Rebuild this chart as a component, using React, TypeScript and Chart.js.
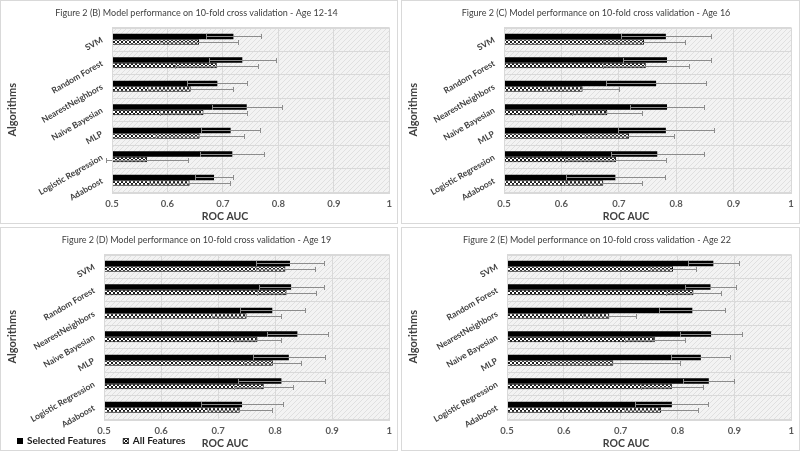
import React, { useEffect, useRef } from 'react';
import { Chart, registerables } from 'chart.js';

Chart.register(...registerables);

const FONT = 'Lato, "Open Sans", sans-serif';

const categories = ['SVM', 'Random Forest', 'NearestNeighbors', 'Naive Bayesian', 'MLP', 'Logistic Regression', 'Adaboost'];
const seriesNames = ['Selected Features', 'All Features'];
const xTickValues = [0.5, 0.6, 0.7, 0.8, 0.9, 1];
const xTickLabels = ['0.5', '0.6', '0.7', '0.8', '0.9', '1'];
const xAxisTitle = 'ROC AUC';
const yAxisTitle = 'Algorithms';

const titleB = 'Figure 2 (B) Model performance on 10-fold cross validation - Age 12-14';
const selectedB = [0.719, 0.735, 0.690, 0.743, 0.714, 0.717, 0.684];
const selectedErrB = [0.050, 0.060, 0.054, 0.063, 0.053, 0.058, 0.035];
const allB = [0.657, 0.689, 0.642, 0.665, 0.658, 0.563, 0.640];
const allErrB = [0.071, 0.075, 0.077, 0.078, 0.080, 0.074, 0.073];

const titleC = 'Figure 2 (C) Model performance on 10-fold cross validation - Age 16';
const selectedC = [0.782, 0.784, 0.765, 0.784, 0.782, 0.767, 0.694];
const selectedErrC = [0.078, 0.076, 0.087, 0.065, 0.084, 0.081, 0.086];
const allC = [0.744, 0.747, 0.637, 0.680, 0.718, 0.695, 0.673];
const allErrC = [0.071, 0.075, 0.064, 0.061, 0.079, 0.088, 0.067];

const titleD = 'Figure 2 (D) Model performance on 10-fold cross validation - Age 19';
const selectedD = [0.826, 0.828, 0.795, 0.839, 0.824, 0.811, 0.742];
const selectedErrD = [0.059, 0.057, 0.057, 0.054, 0.063, 0.076, 0.072];
const allD = [0.818, 0.820, 0.750, 0.769, 0.796, 0.780, 0.738];
const allErrD = [0.051, 0.052, 0.061, 0.041, 0.050, 0.052, 0.057];

const titleE = 'Figure 2 (E) Model performance on 10-fold cross validation - Age 22';
const selectedE = [0.863, 0.858, 0.826, 0.859, 0.841, 0.855, 0.790];
const selectedErrE = [0.045, 0.045, 0.058, 0.055, 0.052, 0.045, 0.064];
const allE = [0.792, 0.828, 0.680, 0.760, 0.687, 0.790, 0.771];
const allErrE = [0.040, 0.049, 0.047, 0.053, 0.117, 0.055, 0.065];

function makePattern(size: number, bg: string, fg: string, pixels: number[][]) {
  const c = document.createElement('canvas');
  c.width = size;
  c.height = size;
  const g = c.getContext('2d')!;
  g.fillStyle = bg;
  g.fillRect(0, 0, size, size);
  g.fillStyle = fg;
  pixels.forEach(([x, y]) => g.fillRect(x, y, 1, 1));
  return g.createPattern(c, 'repeat')!;
}

function hatchPattern() {
  return makePattern(4, '#ffffff', '#1a1a1a', [[0, 0], [1, 1], [2, 2], [3, 3], [3, 0], [2, 1], [1, 2], [0, 3]]);
}

function bgPattern() {
  return makePattern(5, '#f3f3f3', '#e0e0e0', [[4, 0], [3, 1], [2, 2], [1, 3], [0, 4]]);
}

type PanelProps = {
  title: string;
  selected: number[];
  selectedErr: number[];
  all: number[];
  allErr: number[];
  left: number;
  top: number;
  width: number;
  height: number;
  axisWidth: number;
  padRight: number;
  showLegend: boolean;
};

function Panel(p: PanelProps) {
  const ref = useRef<HTMLCanvasElement>(null);
  useEffect(() => {
    const canvas = ref.current!;
    const hatch = hatchPattern();
    const bg = bgPattern();

    const backgroundPlugin = {
      id: 'bgp',
      beforeDraw(chart: any) {
        const { ctx, chartArea: a } = chart;
        ctx.save();
        ctx.fillStyle = '#ffffff';
        ctx.fillRect(0, 0, chart.width, chart.height);
        ctx.fillStyle = bg;
        ctx.fillRect(a.left, a.top, a.right - a.left, a.bottom - a.top);
        ctx.restore();
      },
    };

    const errorBarPlugin = {
      id: 'errbars',
      afterDatasetsDraw(chart: any) {
        const ctx = chart.ctx;
        const xs = chart.scales.x;
        chart.data.datasets.forEach((ds: any, i: number) => {
          const meta = chart.getDatasetMeta(i);
          meta.data.forEach((bar: any, j: number) => {
            const v = ds.data[j];
            const e = ds.errors[j];
            const x1 = Math.round(xs.getPixelForValue(v - e)) + 0.5;
            const x2 = Math.round(xs.getPixelForValue(v + e)) + 0.5;
            const y = Math.round(bar.y) + 0.5;
            ctx.save();
            ctx.strokeStyle = '#8c8c8c';
            ctx.lineWidth = 1;
            ctx.beginPath();
            ctx.moveTo(x1, y);
            ctx.lineTo(x2, y);
            ctx.moveTo(x1, y - 2.5);
            ctx.lineTo(x1, y + 2.5);
            ctx.moveTo(x2, y - 2.5);
            ctx.lineTo(x2, y + 2.5);
            ctx.stroke();
            ctx.restore();
          });
        });
      },
    };

    const overlayPlugin = {
      id: 'overlay',
      afterDraw(chart: any) {
        const { ctx, chartArea: a } = chart;
        ctx.save();
        ctx.strokeStyle = '#d9d9d9';
        ctx.lineWidth = 1;
        ctx.strokeRect(Math.round(a.left) + 0.5, Math.round(a.top) + 0.5, Math.round(a.right - a.left), Math.round(a.bottom - a.top));
        ctx.strokeRect(0.5, 0.5, chart.width - 1, chart.height - 1);
        ctx.fillStyle = '#404040';
        ctx.font = `bold 10.5px ${FONT}`;
        ctx.textAlign = 'center';
        ctx.textBaseline = 'middle';
        ctx.fillText(xAxisTitle, 225, chart.height - 7.5);
        if (p.showLegend) {
          const ds = chart.data.datasets;
          const y = chart.height - 10;
          ctx.font = `bold 10px ${FONT}`;
          ctx.textAlign = 'left';
          ctx.fillStyle = '#000000';
          let x = 17;
          ctx.fillRect(x, y - 3, 6, 6);
          x += 10;
          ctx.fillStyle = '#1a1a1a';
          ctx.fillText(ds[0].label, x, y);
          x += ctx.measureText(ds[0].label).width + 17;
          ctx.fillStyle = hatch;
          ctx.fillRect(x, y - 3, 6, 6);
          ctx.strokeStyle = '#333333';
          ctx.strokeRect(x + 0.5, y - 2.5, 5, 5);
          x += 10;
          ctx.fillStyle = '#1a1a1a';
          ctx.fillText(ds[1].label, x, y);
        }
        ctx.restore();
      },
    };

    const chart = new Chart(canvas, {
      type: 'bar',
      data: {
        labels: categories,
        datasets: [
          {
            label: seriesNames[0],
            data: p.selected,
            errors: p.selectedErr,
            backgroundColor: '#000000',
            borderWidth: 0,
            categoryPercentage: 0.47,
            barPercentage: 1,
          } as any,
          {
            label: seriesNames[1],
            data: p.all,
            errors: p.allErr,
            backgroundColor: hatch,
            borderColor: '#000000',
            borderWidth: 1,
            categoryPercentage: 0.47,
            barPercentage: 1,
          } as any,
        ],
      },
      options: {
        indexAxis: 'y',
        animation: false,
        responsive: false,
        maintainAspectRatio: false,
        layout: { padding: { left: 0, right: p.padRight, top: 0, bottom: 0 } },
        plugins: {
          legend: { display: false },
          tooltip: { enabled: false },
          title: {
            display: true,
            text: p.title,
            color: '#404040',
            font: { family: FONT, size: 9, weight: 'normal' },
            padding: { top: 8, bottom: 8.7 },
          },
        },
        scales: {
          x: {
            min: 0.5,
            max: 1,
            afterBuildTicks: (s: any) => {
              s.ticks = xTickValues.map((v) => ({ value: v }));
            },
            ticks: {
              color: '#595959',
              font: { family: FONT, size: 9.5, weight: 'bold' },
              padding: 6,
              callback: (_v: any, i: number) => xTickLabels[i],
            },
            grid: { color: '#d9d9d9', drawTicks: false },
            border: { display: false },
            afterFit: (s: any) => {
              s.height = 32;
            },
          },
          y: {
            grid: { color: '#d9d9d9', drawTicks: false, offset: true },
            border: { display: false },
            ticks: {
              minRotation: 30,
              maxRotation: 30,
              color: '#404040',
              font: { family: FONT, size: 8.5, weight: 'bold' },
              padding: 10,
            },
            title: {
              display: true,
              text: yAxisTitle,
              color: '#404040',
              font: { family: FONT, size: 11, weight: 'bold' },
              padding: { top: 6, bottom: 0 },
            },
            afterFit: (s: any) => {
              s.width = p.axisWidth;
            },
          },
        },
      } as any,
      plugins: [backgroundPlugin, errorBarPlugin, overlayPlugin],
    });
    return () => chart.destroy();
  }, []);
  return (
    <canvas
      ref={ref}
      width={p.width}
      height={p.height}
      style={{ position: 'absolute', left: p.left, top: p.top, width: p.width, height: p.height }}
    />
  );
}

export default function App() {
  return (
    <div style={{ position: 'fixed', left: 0, top: 0, width: 800, height: 451, background: '#ffffff', overflow: 'hidden' }}>
      <Panel title={titleB} selected={selectedB} selectedErr={selectedErrB} all={allB} allErr={allErrB}
        left={0} top={0} width={398} height={224} axisWidth={112} padRight={5} showLegend={false} />
      <Panel title={titleC} selected={selectedC} selectedErr={selectedErrC} all={allC} allErr={allErrC}
        left={401} top={0} width={399} height={224} axisWidth={103} padRight={9} showLegend={false} />
      <Panel title={titleD} selected={selectedD} selectedErr={selectedErrD} all={allD} allErr={allErrD}
        left={0} top={227} width={398} height={224} axisWidth={104} padRight={5} showLegend={true} />
      <Panel title={titleE} selected={selectedE} selectedErr={selectedErrE} all={allE} allErr={allErrE}
        left={401} top={227} width={399} height={224} axisWidth={106} padRight={7} showLegend={false} />
    </div>
  );
}
